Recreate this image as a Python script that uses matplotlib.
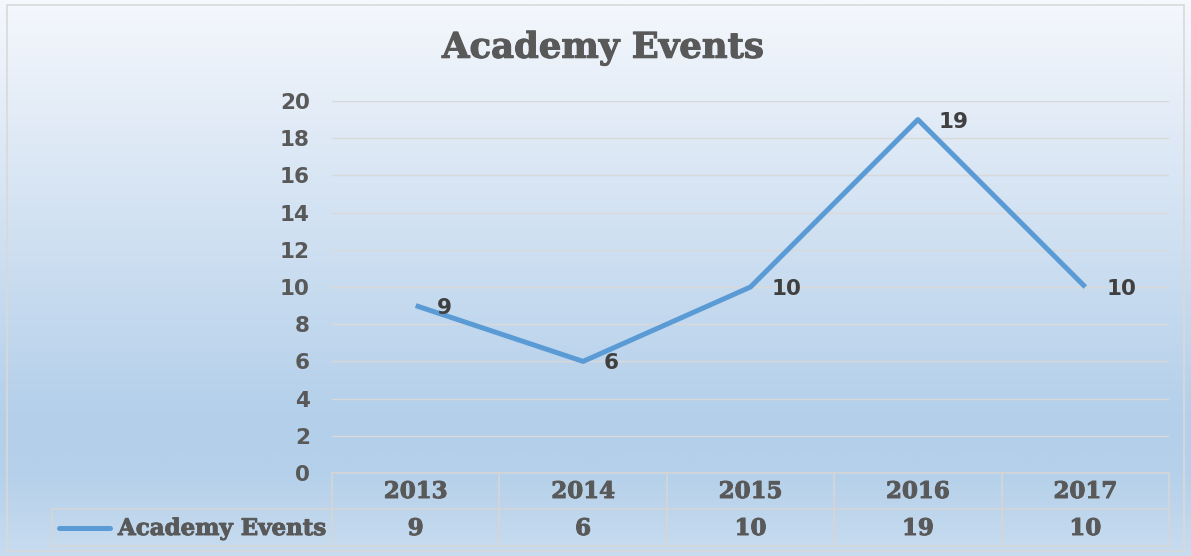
import numpy as np
import matplotlib
matplotlib.use("Agg")
import matplotlib.pyplot as plt
import matplotlib.patheffects as pe
from matplotlib.colors import LinearSegmentedColormap
from matplotlib.patches import Rectangle
from matplotlib.lines import Line2D

# ---- data ----
categories = ["2013", "2014", "2015", "2016", "2017"]
values = [9, 6, 10, 19, 10]
series_name = "Academy Events"
title = "Academy Events"
yticks = list(range(0, 21, 2))

W, H = 1191, 556
fig = plt.figure(figsize=(W / 100, H / 100), dpi=100)

def fx(px):
    return px / W

def fy(py):
    return 1 - py / H

# ---- gradient background ----
bg = fig.add_axes([0, 0, 1, 1], zorder=0)
bg.set_axis_off()
cmap = LinearSegmentedColormap.from_list(
    "bg", [(0.0, "#f5f8fd"), (0.2, "#e3ecf7"), (0.76, "#b3cfea"),
           (0.86, "#b6d1ea"), (1.0, "#c8dcf0")])
grad = np.linspace(0, 1, 256).reshape(-1, 1)
bg.imshow(grad, aspect="auto", cmap=cmap, extent=[0, 1, 0, 1], origin="upper")
bg.set_xlim(0, 1)
bg.set_ylim(0, 1)
bg.add_patch(Rectangle((fx(7), fy(551)), fx(1184) - fx(7), fy(5) - fy(551),
                       fill=False, ec="#d9d9d9", lw=1.2, transform=bg.transAxes))

thick = [pe.withStroke(linewidth=0.7, foreground="#595959")]

# ---- main axes ----
left, right, top, bottom = 332, 1169, 101, 473
ax = fig.add_axes([fx(left), fy(bottom), fx(right) - fx(left), fy(top) - fy(bottom)], zorder=1)
ax.patch.set_alpha(0)
x = np.arange(len(categories))
ax.set_xlim(-0.5, len(categories) - 0.5)
ax.set_ylim(0, 20)
ax.set_yticks(yticks)
ax.set_yticklabels([str(t) for t in yticks])
ax.tick_params(axis="y", length=0, pad=16, labelsize=15.5, labelcolor="#595959")
for lab in ax.get_yticklabels():
    lab.set_fontweight("bold")
ax.set_xticks([])
for s in ax.spines.values():
    s.set_visible(False)
ax.grid(axis="y", color="#d9d9d9", lw=1)
ax.set_axisbelow(True)

line_color = "#5b9bd5"
ax.plot(x, values, color=line_color, lw=3.6, solid_capstyle="butt", zorder=3)
for xi, v in zip(x, values):
    ax.annotate(str(v), (xi, v), xytext=(21, -2), textcoords="offset pixels",
                ha="left", va="center", fontsize=15.5, fontweight="bold",
                color="#404040")

fig.text(0.5065, fy(48), title, ha="center", va="center", fontsize=25.5,
         fontweight="bold", family="DejaVu Serif", color="#595959",
         path_effects=[pe.withStroke(linewidth=0.8, foreground="#595959")])

# ---- data table ----
grid_c = "#d6d6d6"
row1_top, row1_bot, row2_bot = 473, 509, 546
tl = bg.transAxes
def hline(x0, x1, y):
    bg.add_line(Line2D([fx(x0), fx(x1)], [fy(y), fy(y)], color=grid_c, lw=1.2, transform=tl))
def vline(xp, y0, y1):
    bg.add_line(Line2D([fx(xp), fx(xp)], [fy(y0), fy(y1)], color=grid_c, lw=1.2, transform=tl))

hline(left, right, row1_top)
hline(52, right, row1_bot)
hline(52, right, row2_bot)
vline(52, row1_bot, row2_bot)
colw = (right - left) / len(categories)
for i in range(len(categories) + 1):
    vline(left + i * colw, row1_top, row2_bot)

tab_font = dict(family="DejaVu Serif", fontweight="bold", fontsize=16.5, color="#595959",
                path_effects=thick)
for i, (c, v) in enumerate(zip(categories, values)):
    cx = left + (i + 0.5) * colw
    fig.text(fx(cx), fy((row1_top + row1_bot) / 2 + 1), c, ha="center", va="center", **tab_font)
    fig.text(fx(cx), fy((row1_bot + row2_bot) / 2 + 1.5), str(v), ha="center", va="center", **tab_font)

bg.add_line(Line2D([fx(59), fx(110)], [fy(527.5), fy(527.5)], color=line_color, lw=3.6,
                   solid_capstyle="round", transform=tl))
fig.text(fx(118), fy(529), series_name, ha="left", va="center", **tab_font)

fig.savefig("out.png", dpi=100)
